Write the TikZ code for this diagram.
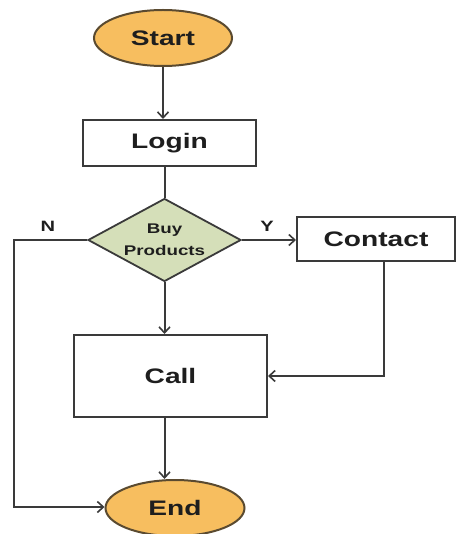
\documentclass[tikz,border=0pt]{standalone}
\usepackage{fontspec}
\setmainfont{Liberation Sans}[FakeStretch=1.34]
\usetikzlibrary{shapes.geometric,arrows.meta}
\definecolor{termfill}{HTML}{F7BE5F}
\definecolor{termline}{HTML}{5A4A30}
\definecolor{decfill}{HTML}{D5DFB9}
\definecolor{ink}{HTML}{3A3A3A}
\definecolor{textink}{HTML}{1E1E1E}
\tikzset{
  x=1pt, y=-1pt,
  term/.style={ellipse, draw=termline, fill=termfill, line width=2pt, inner sep=0pt, text=textink, font=\bfseries\fontsize{21}{23}\selectfont},
  procbox/.style={rectangle, draw=ink, fill=white, line width=2pt, inner sep=0pt, text=textink, font=\bfseries\fontsize{21}{23}\selectfont},
  decision/.style={diamond, aspect=1.84, draw=ink, fill=decfill, line width=1.8pt, inner sep=0pt, align=center, text=textink, font=\bfseries\fontsize{14}{22}\selectfont},
  flow/.style={draw=ink, line width=2pt},
  arr/.style={flow, -{Straight Barb[length=6pt, width=11pt, line width=1.6pt]}},
  lbl/.style={font=\bfseries\fontsize{15}{17}\selectfont, text=textink}
}
\begin{document}
\begin{tikzpicture}
\useasboundingbox (0,0) rectangle (458,534);
\fill[white] (0,0) rectangle (458,534);

\node[term, minimum width=138pt, minimum height=56pt] (start) at (163,38) {Start};
\node[procbox, minimum width=173pt, minimum height=46pt] (login) at (169.5,143) {Login};
\node[decision, minimum width=153pt, minimum height=83pt] (buy) at (164.5,240) {Buy\\Products};
\node[procbox, minimum width=158pt, minimum height=44pt, anchor=west] (contact) at (296,239) {Contact};
\node[procbox, minimum width=193pt, minimum height=82pt] (call) at (170.5,376) {Call};
\node[term, minimum width=139pt, minimum height=56pt] (end) at (175,508) {End};

\coordinate (nturn) at (14,240);
\coordinate (nbottom) at (14,507);

\draw[arr] (start.south) -- (start.south |- login.north);
\draw[flow] (login.south -| buy.north) -- (buy.north);
\draw[arr] (buy.south) -- (buy.south |- call.north);
\draw[arr] (buy.south |- call.south) -- (buy.south |- end.north);
\draw[arr] (buy.east) -- (buy.east -| contact.west);
\draw[arr] (contact.south -| 384,0) -- (384,376) -- (call.east);
\draw[arr] (buy.west) -- (nturn) -- (nbottom) -- (end.west |- nbottom);

\node[lbl] (ylbl) at (267,226) {Y};
\node[lbl] (nlbl) at (48,226) {N};
\end{tikzpicture}
\end{document}
